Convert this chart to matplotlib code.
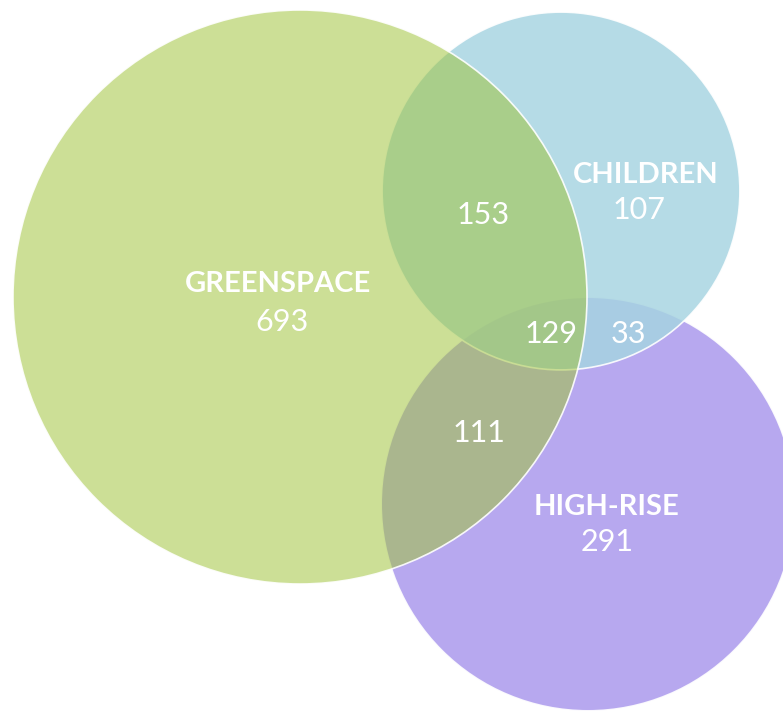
import matplotlib
matplotlib.use("Agg")
import matplotlib.pyplot as plt
from matplotlib.patches import Circle
import numpy as np

# set names and region counts
names = ["GREENSPACE", "CHILDREN", "HIGH-RISE"]
only_counts = [693, 107, 291]
green_children = 153
green_highrise = 111
children_highrise = 33
all_three = 129

# set totals -> area proportional radii
totals = np.array([
    only_counts[0] + green_children + green_highrise + all_three,
    only_counts[1] + green_children + children_highrise + all_three,
    only_counts[2] + green_highrise + children_highrise + all_three,
])
scale = 287 / np.sqrt(totals[0])
radii = scale * np.sqrt(totals)

# layout (pixel coords, y down)
centers = [(300, 297), (561, 191), (588, 504)]
colors = [(160/255, 196/255, 57/255), (166/255, 212/255, 225/255), (183/255, 168/255, 239/255)]
alphas = [0.53, 0.83, 1.0]
draw_order = [2, 1, 0]

fig = plt.figure(figsize=(7.83, 7.11), dpi=100)
ax = fig.add_axes([0, 0, 1, 1])
ax.set_xlim(0, 783)
ax.set_ylim(711, 0)
ax.set_aspect("equal")
ax.axis("off")

for i in draw_order:
    ax.add_patch(Circle(centers[i], radii[i], facecolor=colors[i], alpha=alphas[i],
                        edgecolor="none", zorder=2))
    ax.add_patch(Circle(centers[i], radii[i], facecolor="none", edgecolor="white",
                        lw=1.2, alpha=0.9, zorder=2))

font = "Lato"
name_pos = [(278, 284), (646, 175), (606, 507)]
count_pos = [(282, 322), (639, 210), (607, 542)]
for i in range(3):
    ax.text(*name_pos[i], names[i], color="white", fontsize=21, fontweight="bold",
            family=font, ha="center", va="center", zorder=5)
    ax.text(*count_pos[i], str(only_counts[i]), color="white", fontsize=22,
            family=font, ha="center", va="center", zorder=5)

overlaps = [green_children, all_three, children_highrise, green_highrise]
overlap_pos = [(483, 215), (551, 334), (628, 334), (479, 433)]
for val, pos in zip(overlaps, overlap_pos):
    ax.text(*pos, str(val), color="white", fontsize=22, family=font,
            ha="center", va="center", zorder=5)

fig.savefig("out.png", dpi=100)
